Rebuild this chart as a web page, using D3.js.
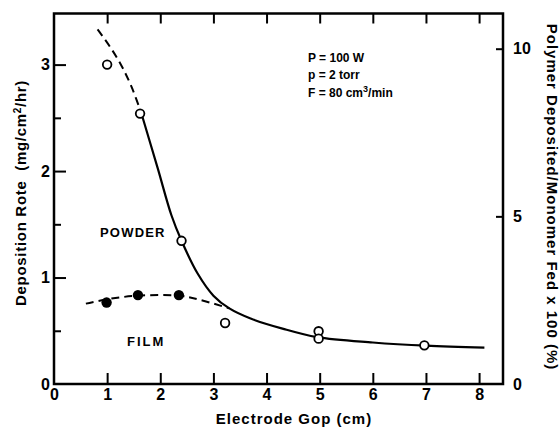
<!DOCTYPE html>
<html>
<head>
<meta charset="utf-8">
<script src="https://cdn.jsdelivr.net/npm/d3@7"></script>
<style>
  html, body { margin: 0; padding: 0; background: #fff; }
  svg { display: block; }
  text { font-family: "Liberation Sans", Arial, sans-serif; font-weight: bold; fill: #000; }
</style>
</head>
<body>
<svg id="chart" width="560" height="429"></svg>
<script>
// ---- data ----
const xTicks = [0, 1, 2, 3, 4, 5, 6, 7, 8];
const yTicks = [0, 1, 2, 3];
const yMinorTicks = [0.5, 1.5, 2.5];
const y2Ticks = [0, 5, 10];

// open circles: powder
const powderX = [1.0, 1.62, 2.4, 3.22, 4.98, 4.98, 6.97];
const powderY = [3.0, 2.54, 1.345, 0.573, 0.495, 0.426, 0.363];

// filled circles: film
const filmX = [0.99, 1.58, 2.35];
const filmY = [0.765, 0.835, 0.835];

// solid curve (powder fit)
const solidX = [1.64, 1.95, 2.21, 2.4, 2.7, 3.0, 3.3, 3.7, 4.3, 4.95, 6.0, 7.0, 8.1];
const solidY = [2.55, 2.03, 1.585, 1.345, 1.04, 0.83, 0.71, 0.615, 0.52, 0.44, 0.39, 0.36, 0.342];

// dashed powder extension
const dashPX = [0.82, 1.05, 1.27, 1.46, 1.64];
const dashPY = [3.33, 3.17, 2.99, 2.79, 2.55];

// dashed film curve
const dashFX = [0.6, 1.05, 1.6, 2.35, 2.75, 3.3];
const dashFY = [0.755, 0.80, 0.83, 0.83, 0.79, 0.71];

// ---- layout ----
const svg = d3.select("#chart");
const L = 54, R = 503, T = 13.5, B = 384;

const x = d3.scaleLinear().domain([0, 8.45]).range([L, R]);
const y = d3.scaleLinear().domain([0, 3.48]).range([B, T]);
const y2 = d3.scaleLinear().domain([0, 11.05]).range([B, T]);

function styleAxis(g) {
  g.select(".domain").remove();
  g.selectAll(".tick line").attr("stroke", "#000").attr("stroke-width", 2);
  g.selectAll(".tick text").style("font-size", "16px").style("font-family", "'Liberation Sans', Arial, sans-serif").style("font-weight", "bold");
}

// bottom axis
svg.append("g").attr("transform", `translate(0,${B})`)
  .call(d3.axisBottom(x).tickValues(xTicks).tickSize(-11).tickPadding(5).tickFormat(d3.format("d")))
  .call(styleAxis)
  .call(g => g.selectAll(".tick").filter(d => d === 0).select("line").remove());

// top axis (ticks only)
svg.append("g").attr("transform", `translate(0,${T})`)
  .call(d3.axisTop(x).tickValues(xTicks.filter(d => d > 0)).tickSize(-10).tickFormat(""))
  .call(styleAxis);

// left axis
svg.append("g").attr("transform", `translate(${L},0)`)
  .call(d3.axisLeft(y).tickValues(yTicks).tickSize(-12).tickPadding(4).tickFormat(d3.format("d")))
  .call(styleAxis)
  .call(g => g.selectAll(".tick").filter(d => d === 0).select("line").remove());

svg.append("g").attr("transform", `translate(${L},0)`)
  .call(d3.axisLeft(y).tickValues(yMinorTicks).tickSize(-7).tickFormat(""))
  .call(styleAxis);

// right axis
svg.append("g").attr("transform", `translate(${R},0)`)
  .call(d3.axisRight(y2).tickValues(y2Ticks).tickSize(-7).tickPadding(10).tickFormat(d3.format("d")))
  .call(styleAxis)
  .call(g => g.selectAll(".tick").filter(d => d === 0).select("line").remove());

// frame
svg.append("rect")
  .attr("x", L).attr("y", T).attr("width", R - L).attr("height", B - T)
  .attr("fill", "none").attr("stroke", "#000").attr("stroke-width", 2.5);

// curves
const line = d3.line().x(d => x(d[0])).y(d => y(d[1])).curve(d3.curveCatmullRom.alpha(0.5));

svg.append("path").datum(d3.zip(solidX, solidY)).attr("d", line)
  .attr("fill", "none").attr("stroke", "#000").attr("stroke-width", 2.2);

svg.append("path").datum(d3.zip(dashPX, dashPY)).attr("d", line)
  .attr("fill", "none").attr("stroke", "#000").attr("stroke-width", 2)
  .attr("stroke-dasharray", "8,5");

svg.append("path").datum(d3.zip(dashFX, dashFY)).attr("d", line)
  .attr("fill", "none").attr("stroke", "#000").attr("stroke-width", 2)
  .attr("stroke-dasharray", "8,5");

// points
svg.append("g").selectAll("circle").data(d3.zip(powderX, powderY)).join("circle")
  .attr("cx", d => x(d[0])).attr("cy", d => y(d[1])).attr("r", 4.3)
  .attr("fill", "#fff").attr("stroke", "#000").attr("stroke-width", 1.8);

svg.append("g").selectAll("circle").data(d3.zip(filmX, filmY)).join("circle")
  .attr("cx", d => x(d[0])).attr("cy", d => y(d[1])).attr("r", 5.2)
  .attr("fill", "#000");

// labels inside plot
svg.append("text").attr("x", 100).attr("y", 237).style("font-size", "13px")
  .style("letter-spacing", "1.2px").text("POWDER");
svg.append("text").attr("x", 127).attr("y", 346).style("font-size", "13px")
  .style("letter-spacing", "2px").text("FILM");

const ann = svg.append("g").style("font-size", "12px");
ann.append("text").attr("x", 308).attr("y", 62).text("P = 100 W");
ann.append("text").attr("x", 308).attr("y", 79).text("p = 2 torr");
const f = ann.append("text").attr("x", 308).attr("y", 97);
f.append("tspan").text("F = 80 cm");
f.append("tspan").attr("dy", -5).style("font-size", "9px").text("3");
f.append("tspan").attr("dy", 5).text("/min");

// axis titles
svg.append("text").attr("x", 294).attr("y", 424).attr("text-anchor", "middle")
  .style("font-size", "15px").style("letter-spacing", "1px").text("Electrode Gop (cm)");

const lt = svg.append("text").attr("transform", "translate(26,193) rotate(-90)")
  .attr("text-anchor", "middle").style("font-size", "15px").style("letter-spacing", "0.7px")
  .style("white-space", "pre");
lt.append("tspan").text("Deposition Rote  (mg/cm");
lt.append("tspan").attr("dy", -5).style("font-size", "10px").text("2");
lt.append("tspan").attr("dy", 5).text("/hr)");

svg.append("text").attr("transform", "translate(547,197) rotate(90)")
  .attr("text-anchor", "middle").style("font-size", "15px").style("letter-spacing", "1px")
  .text("Polymer Deposited/Monomer Fed x 100 (%)");
</script>
</body>
</html>
